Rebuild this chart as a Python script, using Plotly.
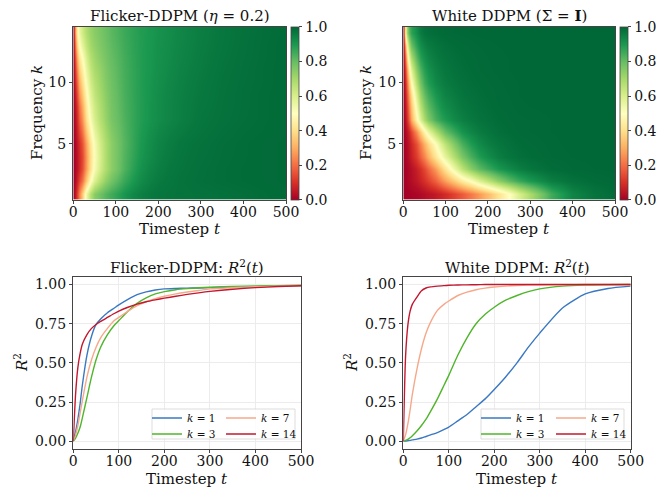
import plotly.graph_objects as go

# ---------------- data ----------------
T = [0, 5, 10, 15, 20, 30, 40, 50, 60, 75, 90, 100, 120, 140, 160, 180, 200,
     225, 250, 275, 300, 350, 400, 450, 500]
K = list(range(1, 15))

# Flicker-DDPM (eta = 0.2): R^2(t) per frequency k
flicker_k1 = [0, 0.06, 0.14, 0.24, 0.36, 0.55, 0.67, 0.745, 0.78, 0.82, 0.85, 0.87, 0.905, 0.935, 0.953, 0.965, 0.972, 0.975, 0.977, 0.978, 0.98, 0.983, 0.986, 0.99, 0.993]
flicker_k2 = [0, 0.03, 0.08, 0.14, 0.21, 0.36, 0.49, 0.59, 0.66, 0.73, 0.78, 0.81, 0.86, 0.9, 0.93, 0.95, 0.962, 0.971, 0.977, 0.981, 0.984, 0.988, 0.991, 0.993, 0.995]
flicker_k3 = [0, 0.02, 0.05, 0.09, 0.15, 0.28, 0.41, 0.52, 0.6, 0.68, 0.74, 0.77, 0.83, 0.88, 0.915, 0.94, 0.955, 0.967, 0.974, 0.979, 0.983, 0.988, 0.991, 0.993, 0.995]
flicker_k4 = [0, 0.02, 0.05, 0.09, 0.14, 0.27, 0.4, 0.51, 0.59, 0.68, 0.74, 0.77, 0.825, 0.87, 0.905, 0.93, 0.948, 0.962, 0.971, 0.977, 0.981, 0.987, 0.99, 0.993, 0.995]
flicker_k5 = [0, 0.02, 0.06, 0.1, 0.16, 0.29, 0.42, 0.52, 0.6, 0.68, 0.74, 0.77, 0.82, 0.865, 0.9, 0.925, 0.943, 0.958, 0.968, 0.975, 0.979, 0.986, 0.99, 0.993, 0.995]
flicker_k6 = [0, 0.03, 0.08, 0.14, 0.21, 0.35, 0.47, 0.56, 0.63, 0.7, 0.755, 0.78, 0.825, 0.865, 0.895, 0.918, 0.935, 0.95, 0.96, 0.968, 0.975, 0.983, 0.988, 0.991, 0.994]
flicker_k7 = [0, 0.04, 0.1, 0.18, 0.26, 0.41, 0.52, 0.6, 0.66, 0.72, 0.77, 0.79, 0.83, 0.865, 0.89, 0.91, 0.925, 0.94, 0.952, 0.962, 0.972, 0.98, 0.986, 0.99, 0.993]
flicker_k8 = [0, 0.05, 0.12, 0.21, 0.3, 0.44, 0.55, 0.62, 0.675, 0.73, 0.775, 0.795, 0.835, 0.865, 0.89, 0.91, 0.925, 0.94, 0.952, 0.961, 0.969, 0.979, 0.985, 0.99, 0.993]
flicker_k9 = [0, 0.07, 0.16, 0.26, 0.35, 0.48, 0.58, 0.645, 0.69, 0.74, 0.78, 0.8, 0.838, 0.867, 0.89, 0.909, 0.924, 0.939, 0.95, 0.959, 0.967, 0.978, 0.985, 0.99, 0.993]
flicker_k10 = [0, 0.1, 0.2, 0.31, 0.4, 0.52, 0.61, 0.665, 0.705, 0.75, 0.785, 0.805, 0.84, 0.868, 0.89, 0.907, 0.921, 0.936, 0.948, 0.957, 0.965, 0.977, 0.984, 0.989, 0.993]
flicker_k11 = [0, 0.13, 0.26, 0.37, 0.45, 0.56, 0.64, 0.69, 0.72, 0.76, 0.792, 0.81, 0.843, 0.869, 0.89, 0.905, 0.918, 0.932, 0.944, 0.954, 0.962, 0.975, 0.983, 0.989, 0.993]
flicker_k12 = [0, 0.17, 0.32, 0.43, 0.5, 0.6, 0.67, 0.71, 0.74, 0.772, 0.8, 0.816, 0.846, 0.871, 0.89, 0.904, 0.916, 0.929, 0.941, 0.951, 0.96, 0.973, 0.982, 0.988, 0.993]
flicker_k13 = [0, 0.23, 0.4, 0.5, 0.57, 0.645, 0.7, 0.73, 0.755, 0.782, 0.808, 0.823, 0.851, 0.873, 0.89, 0.903, 0.915, 0.927, 0.939, 0.949, 0.958, 0.971, 0.981, 0.988, 0.993]
flicker_k14 = [0, 0.3, 0.47, 0.56, 0.62, 0.68, 0.72, 0.745, 0.765, 0.79, 0.815, 0.83, 0.855, 0.875, 0.89, 0.902, 0.913, 0.925, 0.937, 0.947, 0.956, 0.97, 0.98, 0.987, 0.992]

# White DDPM (Sigma = I)
white_k1 = [0, 0.001, 0.003, 0.005, 0.008, 0.013, 0.02, 0.03, 0.04, 0.055, 0.075, 0.09, 0.13, 0.17, 0.22, 0.27, 0.33, 0.41, 0.5, 0.6, 0.69, 0.85, 0.94, 0.975, 0.99]
white_k2 = [0, 0.005, 0.012, 0.02, 0.03, 0.05, 0.075, 0.1, 0.13, 0.18, 0.24, 0.28, 0.36, 0.44, 0.51, 0.59, 0.66, 0.74, 0.81, 0.86, 0.9, 0.955, 0.98, 0.992, 0.997]
white_k3 = [0, 0.005, 0.012, 0.022, 0.035, 0.065, 0.1, 0.14, 0.19, 0.27, 0.36, 0.42, 0.55, 0.66, 0.75, 0.81, 0.855, 0.9, 0.93, 0.955, 0.972, 0.99, 0.997, 0.999, 1.0]
white_k4 = [0, 0.01, 0.025, 0.045, 0.07, 0.12, 0.18, 0.24, 0.31, 0.42, 0.51, 0.57, 0.68, 0.77, 0.84, 0.89, 0.925, 0.955, 0.973, 0.984, 0.99, 0.997, 0.999, 1.0, 1.0]
white_k5 = [0, 0.012, 0.03, 0.055, 0.085, 0.15, 0.23, 0.31, 0.39, 0.5, 0.6, 0.66, 0.76, 0.84, 0.895, 0.93, 0.955, 0.972, 0.983, 0.99, 0.994, 0.998, 1.0, 1.0, 1.0]
white_k6 = [0, 0.02, 0.05, 0.09, 0.14, 0.25, 0.36, 0.47, 0.56, 0.67, 0.75, 0.8, 0.86, 0.91, 0.94, 0.96, 0.973, 0.985, 0.991, 0.995, 0.997, 0.999, 1.0, 1.0, 1.0]
white_k7 = [0, 0.04, 0.11, 0.2, 0.3, 0.46, 0.59, 0.69, 0.76, 0.835, 0.875, 0.895, 0.93, 0.952, 0.967, 0.977, 0.984, 0.99, 0.994, 0.996, 0.997, 0.999, 1.0, 1.0, 1.0]
white_k8 = [0, 0.055, 0.14, 0.25, 0.35, 0.53, 0.66, 0.75, 0.81, 0.87, 0.91, 0.925, 0.95, 0.966, 0.977, 0.984, 0.989, 0.994, 0.996, 0.998, 0.999, 1.0, 1.0, 1.0, 1.0]
white_k9 = [0, 0.07, 0.18, 0.3, 0.41, 0.59, 0.72, 0.8, 0.85, 0.9, 0.93, 0.945, 0.962, 0.975, 0.983, 0.988, 0.992, 0.995, 0.997, 0.999, 1.0, 1.0, 1.0, 1.0, 1.0]
white_k10 = [0, 0.09, 0.23, 0.37, 0.5, 0.67, 0.78, 0.85, 0.89, 0.93, 0.95, 0.96, 0.973, 0.982, 0.988, 0.991, 0.994, 0.996, 0.998, 0.999, 1.0, 1.0, 1.0, 1.0, 1.0]
white_k11 = [0, 0.13, 0.31, 0.47, 0.59, 0.74, 0.83, 0.885, 0.915, 0.945, 0.962, 0.97, 0.98, 0.987, 0.991, 0.994, 0.996, 0.998, 0.999, 1.0, 1.0, 1.0, 1.0, 1.0, 1.0]
white_k12 = [0, 0.2, 0.43, 0.59, 0.69, 0.81, 0.88, 0.915, 0.94, 0.96, 0.972, 0.978, 0.985, 0.99, 0.993, 0.995, 0.997, 0.998, 0.999, 1.0, 1.0, 1.0, 1.0, 1.0, 1.0]
white_k13 = [0, 0.3, 0.56, 0.71, 0.79, 0.87, 0.92, 0.945, 0.96, 0.973, 0.981, 0.985, 0.99, 0.993, 0.995, 0.997, 0.998, 0.999, 1.0, 1.0, 1.0, 1.0, 1.0, 1.0, 1.0]
white_k14 = [0, 0.54, 0.74, 0.83, 0.875, 0.92, 0.96, 0.978, 0.985, 0.99, 0.993, 0.995, 0.997, 0.998, 0.999, 1.0, 1.0, 1.0, 1.0, 1.0, 1.0, 1.0, 1.0, 1.0, 1.0]

flicker_rows = [flicker_k1, flicker_k2, flicker_k3, flicker_k4, flicker_k5, flicker_k6, flicker_k7,
                flicker_k8, flicker_k9, flicker_k10, flicker_k11, flicker_k12, flicker_k13, flicker_k14]
white_rows = [white_k1, white_k2, white_k3, white_k4, white_k5, white_k6, white_k7,
              white_k8, white_k9, white_k10, white_k11, white_k12, white_k13, white_k14]

line_ks = [1, 3, 7, 14]
line_colors = {1: "#3a78c2", 3: "#4fb52b", 7: "#f6a88a", 14: "#c2182f"}

x_ticks = [0, 100, 200, 300, 400, 500]
k_ticks = [5, 10]
r2_ticks = [0, 0.25, 0.5, 0.75, 1.0]
cb_ticks = [0, 0.2, 0.4, 0.6, 0.8, 1.0]

RdYlGn = ["#a50026", "#d73027", "#f46d43", "#fdae61", "#fee08b", "#ffffbf",
          "#d9ef8b", "#a6d96a", "#66bd63", "#1a9850", "#006837"]
cscale = [[i / 10, c] for i, c in enumerate(RdYlGn)]

# ---------------- layout helpers ----------------
W, H = 670, 487
FONT = "DejaVu Serif"
TXT = "#111111"
AX = "#444444"


def px(xp):
    return xp / W


def py(yp):
    return 1 - yp / H


fig = go.Figure()

# heatmaps
for rows, xa, ya, cbx in [(flicker_rows, "x", "y", 290.5),
                          (white_rows, "x2", "y2", 620.0)]:
    fig.add_trace(go.Heatmap(
        x=T, y=K, z=rows, xaxis=xa, yaxis=ya, zmin=0, zmax=1,
        colorscale=cscale, zsmooth="best", hoverinfo="skip", showlegend=False,
        colorbar=dict(
            x=px(cbx), xanchor="left", xpad=0, ypad=0,
            y=py(113.3), yanchor="middle", len=(200 - 26.7) / H, lenmode="fraction",
            thickness=7.5, thicknessmode="pixels",
            outlinewidth=0.8, outlinecolor=AX,
            tickvals=cb_ticks, ticktext=[f"{v:.1f}" for v in cb_ticks],
            ticks="outside", ticklen=3.5, tickwidth=0.8, tickcolor=AX,
            tickfont=dict(family=FONT, size=14, color=TXT),
        ),
    ))

# R^2 lines
legend_ids = {
    ("x3", 1): "legend", ("x3", 3): "legend2", ("x3", 7): "legend3", ("x3", 14): "legend4",
    ("x4", 1): "legend5", ("x4", 3): "legend6", ("x4", 7): "legend7", ("x4", 14): "legend8",
}
for rows, xa, ya in [(flicker_rows, "x3", "y3"), (white_rows, "x4", "y4")]:
    for k in line_ks:
        fig.add_trace(go.Scatter(
            x=T, y=rows[k - 1], xaxis=xa, yaxis=ya, mode="lines",
            line=dict(color=line_colors[k], width=1.4, shape="spline", smoothing=0.6),
            showlegend=True, name=f"<i>k</i> = {k}", legend=legend_ids[(xa, k)],
            hoverinfo="skip",
        ))

axis_common = dict(
    showline=True, linecolor=AX, linewidth=0.8, mirror=True,
    ticks="outside", ticklen=3.5, tickwidth=0.8, tickcolor=AX,
    tickfont=dict(family=FONT, size=14, color=TXT), zeroline=False,
    automargin=False,
)

layout = dict(
    width=W, height=H, margin=dict(l=0, r=0, t=0, b=0, autoexpand=False),
    paper_bgcolor="white", plot_bgcolor="white", showlegend=True,
    font=dict(family=FONT, color=TXT),
)

# axis domains (pixels)
doms = {
    "1": ((73.3, 286.0), (26.7, 199.5)),
    "2": ((403.3, 615.0), (26.7, 199.5)),
    "3": ((73.3, 301.0), (276.7, 449.0)),
    "4": ((403.3, 630.7), (276.7, 449.0)),
}
for n, ((x0, x1), (y0, y1)) in doms.items():
    sx = "" if n == "1" else n
    xd = [px(x0), px(x1)]
    yd = [py(y1), py(y0)]
    heat = n in ("1", "2")
    layout[f"xaxis{sx}"] = dict(
        axis_common, domain=xd, anchor=f"y{sx}", range=[0, 500],
        tickvals=x_ticks, showgrid=not heat, gridcolor="#ececec", gridwidth=0.8,
        ticklabelstandoff=-4,
    )
    if heat:
        layout[f"yaxis{sx}"] = dict(
            axis_common, domain=yd, anchor=f"x{sx}", range=[0.5, 14.5],
            tickvals=k_ticks, showgrid=False,
        )
    else:
        layout[f"yaxis{sx}"] = dict(
            axis_common, domain=yd, anchor=f"x{sx}", range=[-0.05, 1.05],
            tickvals=r2_ticks, ticktext=[f"{v:.2f}" for v in r2_ticks],
            showgrid=True, gridcolor="#ececec", gridwidth=0.8,
        )

# legends (one per entry to reproduce matplotlib's compact 2-column legend)
leg_pos = {
    "legend": (147, 418), "legend2": (147, 434), "legend3": (221, 418), "legend4": (221, 434),
    "legend5": (476, 418), "legend6": (476, 434), "legend7": (551, 418), "legend8": (551, 434),
}
for name, (lx, ly) in leg_pos.items():
    layout[name] = dict(
        x=px(lx), y=py(ly), xanchor="left", yanchor="middle", visible=True,
        bgcolor="rgba(0,0,0,0)", borderwidth=0, itemwidth=30,
        font=dict(family=FONT, size=10.5, color=TXT),
    )

fig.update_layout(**layout)

# legend frames
for (bx0, bx1) in [(152, 295), (481, 624)]:
    fig.add_shape(type="rect", xref="paper", yref="paper",
                  x0=px(bx0), x1=px(bx1), y0=py(439), y1=py(409),
                  fillcolor="rgba(255,255,255,0.85)", line=dict(color="#d4d4d4", width=0.8),
                  layer="above")

# titles and axis labels
texts = [
    ("Flicker-DDPM (<i>η</i> = 0.2)", 179.7, 16, 0, 15),
    ("White DDPM (Σ = <b>I</b>)", 509.2, 16, 0, 15),
    ("Flicker-DDPM: <i>R</i><sup>2</sup>(<i>t</i>)", 187.2, 267, 0, 15),
    ("White DDPM: <i>R</i><sup>2</sup>(<i>t</i>)", 517.0, 267, 0, 15),
    ("Timestep <i>t</i>", 179.7, 229, 0, 15),
    ("Timestep <i>t</i>", 509.2, 229, 0, 15),
    ("Timestep <i>t</i>", 187.2, 479, 0, 15),
    ("Timestep <i>t</i>", 517.0, 479, 0, 15),
    ("Frequency <i>k</i>", 37, 113, -90, 15),
    ("Frequency <i>k</i>", 366, 113, -90, 15),
    ("<i>R</i><sup>2</sup>", 21, 363, -90, 15),
    ("<i>R</i><sup>2</sup>", 351, 363, -90, 15),
]
for txt, xx, yy, ang, fs in texts:
    fig.add_annotation(text=txt, xref="paper", yref="paper", x=px(xx), y=py(yy),
                       xanchor="center", yanchor="middle", showarrow=False,
                       textangle=ang, font=dict(family=FONT, size=fs, color=TXT))

fig.write_html("out.html", config={"displayModeBar": False},
               post_script="document.body.style.margin='0';")
